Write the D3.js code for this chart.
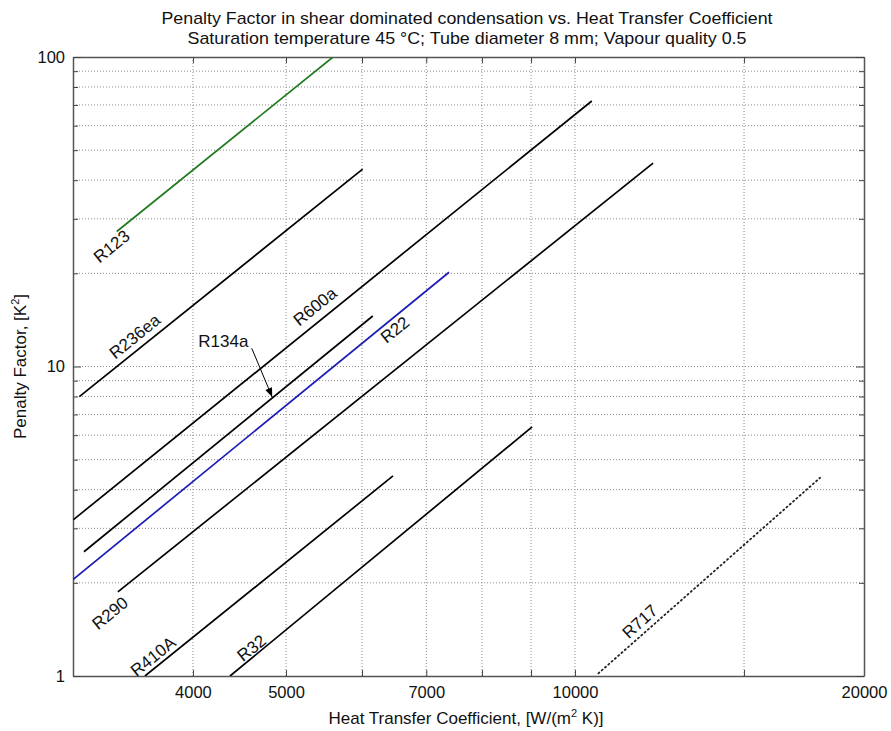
<!DOCTYPE html>
<html>
<head>
<meta charset="utf-8">
<script src="https://cdn.jsdelivr.net/npm/d3@7"></script>
<style>
  html, body { margin: 0; padding: 0; background: #fff; }
  svg { display: block; }
  text { font-family: "Liberation Sans", Arial, sans-serif; fill: #111; }
</style>
</head>
<body>
<svg id="chart" width="891" height="731"></svg>
<script>
// ---------- data ----------
const titleLines = [
  "Penalty Factor in shear dominated condensation vs. Heat Transfer Coefficient",
  "Saturation temperature 45 \u00B0C; Tube diameter 8 mm; Vapour quality 0.5"
];
const xDomain = [3000, 20000];
const yDomain = [1, 100];
const xTickValues = [4000, 5000, 6000, 7000, 8000, 9000, 10000, 15000, 20000];
const xTickLabels = ["4000", "5000", "", "7000", "", "", "10000", "", "20000"];
const yTickValues = [1, 2, 3, 4, 5, 6, 7, 8, 9, 10, 20, 30, 40, 50, 60, 70, 80, 90, 100];
const yTickLabels = ["1", "", "", "", "", "", "", "", "", "10", "", "", "", "", "", "", "", "", "100"];

const seriesNames = ["R123", "R236ea", "R600a", "R134a", "R22", "R290", "R410A", "R32", "R717"];
// [heat transfer coefficient W/(m2 K), penalty factor K2] at the two ends of each line
const R123   = [[3332, 27.3], [5597, 100]];
const R236ea = [[3046, 7.99], [6009, 43.4]];
const R600a  = [[3003, 3.20], [10411, 72.1]];
const R134a  = [[3080, 2.52], [6157, 14.56]];
const R22    = [[3000, 2.05], [7393, 20.16]];
const R290   = [[3341, 1.87], [12060, 45.4]];
const R410A  = [[3565, 1.00], [6463, 4.43]];
const R32    = [[4372, 1.00], [9023, 6.38]];
const R717   = [[10578, 1.02], [18000, 4.37]];
const seriesData = [R123, R236ea, R600a, R134a, R22, R290, R410A, R32, R717];
const seriesColors = ["#1f7a1f", "#000", "#000", "#000", "#1c1cb4", "#000", "#000", "#000", "#222"];
const seriesDash = [null, null, null, null, null, null, null, null, "1.2,3.2"];

// label anchor [x, y] in data units and rotation (deg)
const labelPos = [[3292, 24.4], [3481, 12.49], [5362, 15.6], [4302, 12.03], [6495, 13.12],
                  [3280, 1.594], [3637, 1.154], [4606, 1.229], [11689, 1.497]];
const labelRot = [-39, -39, -39, 0, -39, -39, -39, -39, -42];
const arrowFrom = [4606, 11.45];
const arrowTo = [4837, 7.97];

// ---------- layout ----------
const svg = d3.select("#chart");
const m = { left: 73, right: 891 - 864, top: 57, bottom: 731 - 676 };
const W = 891 - m.left - m.right, H = 731 - m.top - m.bottom;
const FS = "16.5px";

const x = d3.scaleLog().domain(xDomain).range([0, W]);
const y = d3.scaleLog().domain(yDomain).range([H, 0]);

const g = svg.append("g").attr("transform", `translate(${m.left},${m.top})`);

// grid
g.append("g").selectAll("line").data(xTickValues.filter(v => v < xDomain[1])).join("line")
  .attr("x1", d => x(d)).attr("x2", d => x(d)).attr("y1", 0).attr("y2", H)
  .attr("stroke", "#8a8a8a").attr("stroke-width", 1).attr("stroke-dasharray", "1,2");
g.append("g").selectAll("line").data(yTickValues.filter(v => v > yDomain[0] && v < yDomain[1])).join("line")
  .attr("x1", 0).attr("x2", W).attr("y1", d => y(d)).attr("y2", d => y(d))
  .attr("stroke", "#8a8a8a").attr("stroke-width", 1).attr("stroke-dasharray", "1,2");

// axes
const fmtX = (d) => xTickLabels[xTickValues.indexOf(d)];
const fmtY = (d) => yTickLabels[yTickValues.indexOf(d)];
const axB = g.append("g").attr("transform", `translate(0,${H})`)
  .call(d3.axisBottom(x).tickValues(xTickValues).tickFormat(fmtX).tickSizeInner(-6).tickSizeOuter(0).tickPadding(10));
const axT = g.append("g")
  .call(d3.axisTop(x).tickValues(xTickValues).tickFormat("").tickSizeInner(-6).tickSizeOuter(0));
const axL = g.append("g")
  .call(d3.axisLeft(y).tickValues(yTickValues).tickFormat(fmtY).tickSizeInner(-5).tickSizeOuter(0).tickPadding(8));
const axR = g.append("g").attr("transform", `translate(${W},0)`)
  .call(d3.axisRight(y).tickValues(yTickValues).tickFormat("").tickSizeInner(-5).tickSizeOuter(0));
[axB, axT, axL, axR].forEach(a => {
  a.select(".domain").attr("stroke", "#555").attr("stroke-width", 1.5);
  a.selectAll(".tick line").attr("stroke", "#444");
  a.selectAll("text").style("font-family", "Liberation Sans, Arial, sans-serif").style("font-size", FS).attr("fill", "#111");
});
axL.selectAll(".tick line").attr("x2", d => [1, 10, 100].includes(d) ? 8 : 5);
axR.selectAll(".tick line").attr("x2", d => [1, 10, 100].includes(d) ? -8 : -5);

// lines
svg.append("defs").append("clipPath").attr("id", "plotclip")
  .append("rect").attr("width", W).attr("height", H);
const line = d3.line().x(d => x(d[0])).y(d => y(d[1]));
g.append("g").attr("clip-path", "url(#plotclip)").selectAll("path").data(seriesData).join("path")
  .attr("d", line)
  .attr("fill", "none")
  .attr("stroke", (d, i) => seriesColors[i])
  .attr("stroke-width", (d, i) => i === 8 ? 1.8 : 1.7)
  .attr("stroke-linecap", (d, i) => i === 8 ? "round" : "butt")
  .attr("stroke-dasharray", (d, i) => seriesDash[i]);

// labels
g.append("g").selectAll("text").data(seriesNames).join("text")
  .attr("transform", (d, i) => `translate(${x(labelPos[i][0])},${y(labelPos[i][1])}) rotate(${labelRot[i]})`)
  .attr("text-anchor", "middle").attr("dominant-baseline", "central")
  .style("font-size", "17px")
  .text(d => d);

// arrow for R134a
svg.append("defs").append("marker").attr("id", "arr").attr("viewBox", "0 0 10 10")
  .attr("refX", 10).attr("refY", 5).attr("markerWidth", 10).attr("markerHeight", 9)
  .attr("markerUnits", "userSpaceOnUse").attr("orient", "auto")
  .append("path").attr("d", "M0,1 L10,5 L0,9 z").attr("fill", "#000");
g.append("line")
  .attr("x1", x(arrowFrom[0])).attr("y1", y(arrowFrom[1]))
  .attr("x2", x(arrowTo[0])).attr("y2", y(arrowTo[1]))
  .attr("stroke", "#000").attr("stroke-width", 1).attr("marker-end", "url(#arr)");

// titles
titleLines.forEach((t, i) => {
  svg.append("text").attr("x", 467).attr("y", 24 + i * 20)
    .attr("text-anchor", "middle").style("font-size", "17px")
    .attr("textLength", i === 0 ? 611 : 559).attr("lengthAdjust", "spacingAndGlyphs")
    .text(t);
});
svg.append("text").attr("x", 466).attr("y", 724).attr("text-anchor", "middle")
  .style("font-size", "17px")
  .html('Heat Transfer Coefficient, [W/(m<tspan dy="-7" font-size="11px">2</tspan><tspan dy="7"> K)]</tspan>');
svg.append("text").attr("transform", `translate(26,${m.top + H / 2}) rotate(-90)`)
  .attr("text-anchor", "middle").style("font-size", "17px")
  .html('Penalty Factor, [K<tspan dy="-7" font-size="11px">2</tspan><tspan dy="7">]</tspan>');
</script>
</body>
</html>
